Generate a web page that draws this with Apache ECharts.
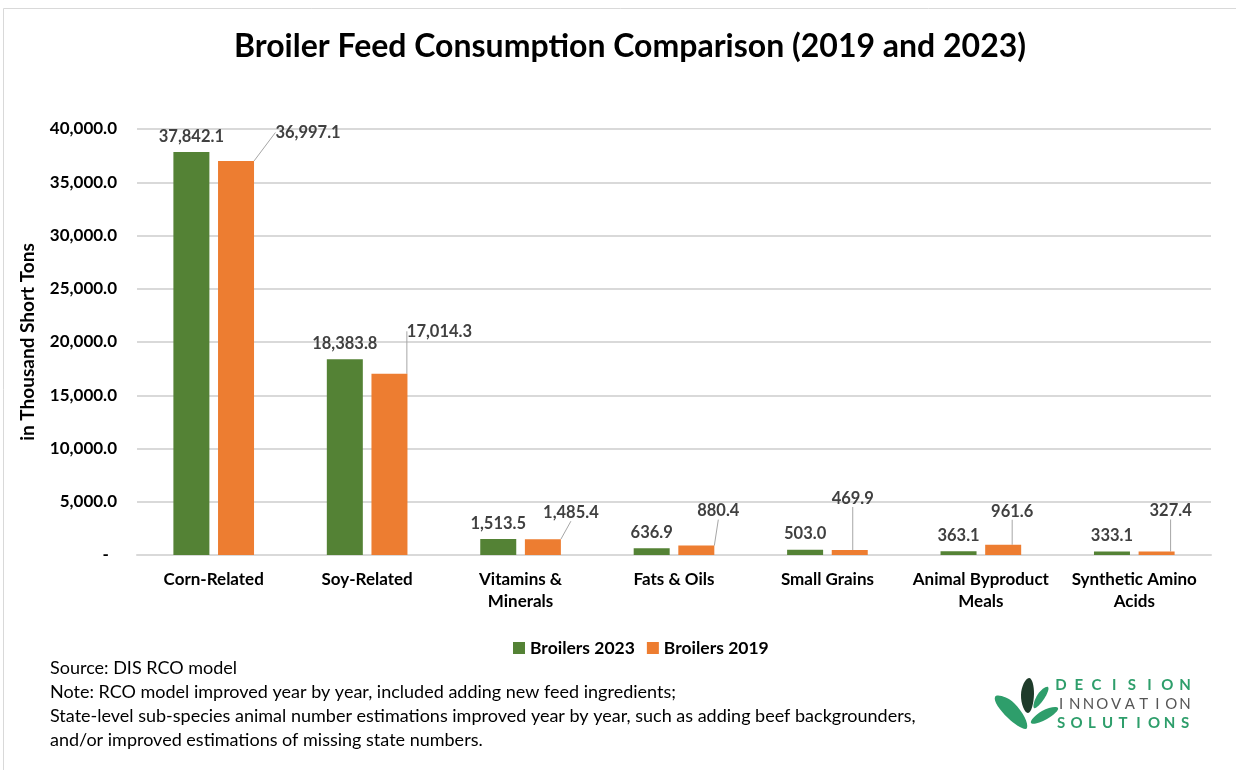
<!DOCTYPE html>
<html>
<head>
<meta charset="utf-8">
<script src="https://cdn.jsdelivr.net/npm/echarts@6/dist/echarts.min.js"></script>
<style>
  html, body { margin: 0; padding: 0; background: #fff; }
  #container { width: 1236px; height: 770px; }
</style>
</head>
<body>
<div id="container"></div>
<script>
// data
var categories = ['Corn-Related', 'Soy-Related', 'Vitamins &\nMinerals', 'Fats & Oils',
  'Small Grains', 'Animal Byproduct\nMeals', 'Synthetic Amino\nAcids']
var broilers2023 = [37842.1, 18383.8, 1513.5, 636.9, 503.0, 363.1, 333.1]
var broilers2019 = [36997.1, 17014.3, 1485.4, 880.4, 469.9, 961.6, 327.4]
var yTicks = [0, 5000, 10000, 15000, 20000, 25000, 30000, 35000, 40000]
var notes = [
  'Source: DIS RCO model',
  'Note: RCO model improved year by year, included adding new feed ingredients;',
  'State-level sub-species animal number estimations improved year by year, such as adding beef backgrounders,',
  'and/or improved estimations of missing state numbers.'
]

// orange labels were dragged aside in the original, with leader lines
var orangeMove = [[72, -13], [50, -27], [28, -11], [22, -19], [3, -36], [9, -18], [14, -25]]

var GREEN = '#548235'
var ORANGE = '#ED7D31'
var FONT = 'Lato'

function fmt(v) {
  if (v === 0) return '-'
  return v.toLocaleString('en-US', { minimumFractionDigits: 1, maximumFractionDigits: 1 })
}

var chart = echarts.init(document.getElementById('container'))

// logo bits
var logoGraphics = [
  { type: 'polygon', shape: { points: [[1029, 678], [1021, 695], [1028, 713], [1034, 694]], smooth: 0.5 },
    style: { fill: '#1e3b2a' } },
  { type: 'polygon', shape: { points: [[1048, 687], [1038, 694], [1034, 708], [1044, 699]], smooth: 0.5 },
    style: { fill: '#2e9e6b' } },
  { type: 'polygon', shape: { points: [[995, 697], [1014, 703], [1027, 728], [1008, 718]], smooth: 0.5 },
    style: { fill: '#2e9e6b' } },
  { type: 'polygon', shape: { points: [[1031, 723], [1042, 711], [1058, 708], [1047, 719]], smooth: 0.5 },
    style: { fill: '#2e9e6b' } }
]
var logoWords = [['DECISION', '#2e9e6b', 'bold', 685], ['INNOVATION', '#555555', 'normal', 704], ['SOLUTIONS', '#2e9e6b', 'bold', 723]]
logoWords.forEach(function(w) {
  var step = 124 / (w[0].length - 1)
  for (var i = 0; i < w[0].length; i++) {
    logoGraphics.push({
      type: 'text', x: 1061 + i * step, y: w[3],
      style: { text: w[0][i], fill: w[1], font: w[2] + ' 15px ' + FONT, align: 'center', verticalAlign: 'middle' }
    })
  }
})

var noteGraphics = notes.map(function(t, i) {
  return { type: 'text', x: 50, y: 668 + i * 24, style: { text: t, fill: '#000', font: '18px ' + FONT, verticalAlign: 'middle' } }
})

chart.setOption({
  backgroundColor: '#fff',
  animation: false,
  title: {
    text: 'Broiler Feed Consumption Comparison (2019 and 2023)',
    left: 229,
    top: 26,
    textStyle: { fontFamily: FONT, fontWeight: 'bold', fontSize: 32, color: '#000' }
  },
  legend: {
    data: ['Broilers 2023', 'Broilers 2019'],
    left: 508,
    top: 634,
    itemWidth: 12,
    itemHeight: 12,
    itemGap: 12,
    icon: 'rect',
    textStyle: { fontFamily: FONT, fontWeight: 'bold', fontSize: 17.5, color: '#000' }
  },
  grid: { left: 137, right: 25, top: 129, bottom: 215 },
  xAxis: {
    type: 'category',
    data: categories,
    axisLine: { lineStyle: { color: '#d9d9d9', width: 2 } },
    axisTick: { show: false },
    axisLabel: { interval: 0, fontFamily: FONT, fontWeight: 'bold', fontSize: 17, color: '#000', margin: 14, lineHeight: 22 }
  },
  yAxis: {
    type: 'value',
    min: yTicks[0],
    max: yTicks[yTicks.length - 1],
    interval: 5000,
    name: 'in Thousand Short Tons',
    nameLocation: 'middle',
    nameGap: 100,
    nameTextStyle: { fontFamily: FONT, fontWeight: 'bold', fontSize: 19, color: '#000' },
    axisLabel: {
      fontFamily: FONT, fontWeight: 'bold', fontSize: 17, color: '#000', margin: 20,
      formatter: function(v) { return v === 0 ? '-  ' : fmt(v) }
    },
    splitLine: { lineStyle: { color: '#d9d9d9', width: 2 } }
  },
  series: [
    {
      name: 'Broilers 2023',
      type: 'bar',
      barWidth: 36,
      barGap: '24%',
      itemStyle: { color: GREEN },
      data: broilers2023,
      label: {
        show: true, position: 'top', distance: 7,
        fontFamily: FONT, fontWeight: 'bold', fontSize: 16.5, color: '#404040',
        formatter: function(p) { return fmt(p.value) }
      }
    },
    {
      name: 'Broilers 2019',
      type: 'bar',
      barWidth: 36,
      itemStyle: { color: ORANGE },
      data: broilers2019,
      label: {
        show: true, position: 'top', distance: 7,
        fontFamily: FONT, fontWeight: 'bold', fontSize: 16.5, color: '#404040',
        formatter: function(p) { return fmt(p.value) }
      },
      labelLine: { show: true, lineStyle: { color: '#a6a6a6', width: 1 } },
      labelLayout: function(p) {
        return { dx: orangeMove[p.dataIndex][0], dy: orangeMove[p.dataIndex][1] }
      }
    }
  ],
  graphic: [
    { type: 'rect', shape: { x: 3.5, y: 8.5, width: 1300, height: 900 }, style: { fill: 'none', stroke: '#d9d9d9', lineWidth: 1 }, z: -1 }
  ].concat(noteGraphics).concat(logoGraphics)
})
</script>
</body>
</html>
